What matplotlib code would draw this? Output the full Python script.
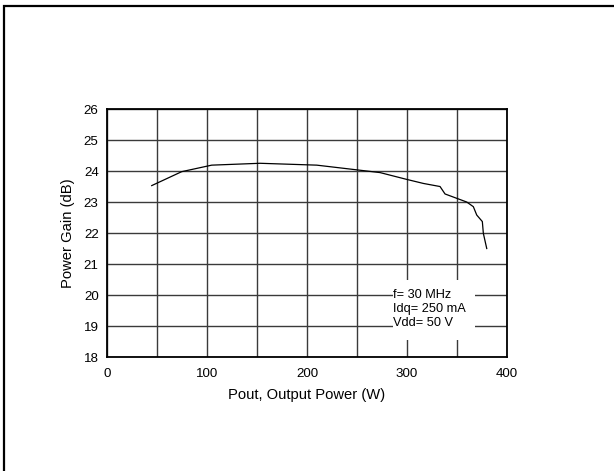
import matplotlib
matplotlib.use('Agg')
import matplotlib.pyplot as plt
from matplotlib.patches import Rectangle

plt.rcParams['font.family'] = ['Liberation Sans', 'DejaVu Sans']

# Pout (W) vs power gain (dB)
pout = [44.7, 74.7, 104.7, 153, 209.7, 273, 299.7, 316.3, 333, 338,
        359.7, 366.3, 369.7, 375.3, 376.3, 379.7]
gain = [23.53, 23.98, 24.19, 24.25, 24.19, 23.95, 23.73, 23.6, 23.5, 23.26,
        23.0, 22.85, 22.58, 22.37, 21.99, 21.5]

x_ticks = [0, 100, 200, 300, 400]
y_ticks = [18, 19, 20, 21, 22, 23, 24, 25, 26]
conditions = "f= 30 MHz\nIdq= 250 mA\nVdd= 50 V"

fig = plt.figure(figsize=(6.14, 4.71), dpi=100)
ax = fig.add_axes([0.1743, 0.242, 0.6515, 0.5265])

ax.plot(pout, gain, color='black', lw=0.9, zorder=3)

ax.set_xlim(0, 400)
ax.set_ylim(18, 26)
ax.set_xticks(x_ticks)
ax.set_yticks(y_ticks)
ax.set_xticks(range(0, 401, 50), minor=True)
ax.grid(True, which='both', color='#3a3a3a', lw=1.0, zorder=1)
ax.tick_params(which='both', length=0, labelsize=9.6, pad=8)
ax.tick_params(axis='y', pad=6)
for s in ax.spines.values():
    s.set_linewidth(1.3)
    s.set_zorder(4)

ax.set_xlabel('Pout, Output Power (W)', fontsize=10.6, labelpad=6)
ax.set_ylabel('Power Gain (dB)', fontsize=10.6, labelpad=6)

# conditions box covering the grid
ax.add_patch(Rectangle((286, 18.55), 82, 1.95, facecolor='white',
                       edgecolor='none', zorder=2))
ax.text(286, 19.55, conditions, fontsize=9.2, va='center', ha='left',
        linespacing=1.2, zorder=3)

# outer frame (only top and left visible)
fig.patches.append(Rectangle((0.0073, -0.1), 1.2, 1.088, transform=fig.transFigure,
                             fill=False, lw=1.6, edgecolor='black'))

fig.savefig('out.png', dpi=100)
